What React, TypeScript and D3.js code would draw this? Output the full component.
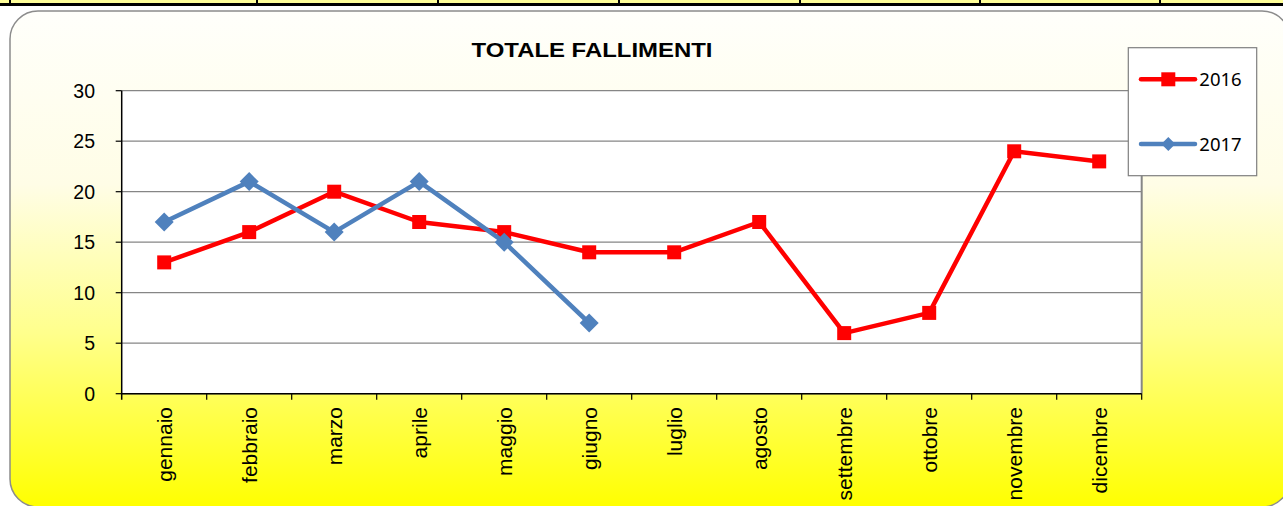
import React from "react";
import * as d3 from "d3";

const months = ["gennaio","febbraio","marzo","aprile","maggio","giugno","luglio","agosto","settembre","ottobre","novembre","dicembre"];
const values2016 = [13,16,20,17,16,14,14,17,6,8,24,23];
const values2017 = [17,21,16,21,15,7];
const yTicks = [0,5,10,15,20,25,30];
const title = "TOTALE FALLIMENTI";
const seriesNames = ["2016","2017"];
const tableDividers = [10,257,438,619,800,980,1160];

const W = 1283, H = 506;
const PL = 121.7, PR = 1141.7, PT = 90.7, PB = 393.7;

export default function App() {
  const x = d3.scaleBand<string>().domain(months).range([PL, PR]);
  const y = d3.scaleLinear().domain([0, 30]).range([PB, PT]);
  const cx = (m: string) => (x(m) as number) + x.bandwidth() / 2;
  const line = d3.line<number>().x((_, i) => cx(months[i])).y(v => y(v));
  const red = "#ff0000", blue = "#4f81bd";
  const axisFont = "'Liberation Sans', Arial, sans-serif";
  const sq = 14, dm = 9.5;
  const diamond = (px: number, py: number, r: number) => `M${px},${py - r}L${px + r},${py}L${px},${py + r}L${px - r},${py}Z`;
  return (
    <svg width={W} height={H} style={{ position: "absolute", left: 0, top: 0 }}>
      <defs>
        <linearGradient id="bg" x1="0" y1="0" x2="0" y2="1">
          <stop offset="0" stopColor="#fffffb" />
          <stop offset="0.35" stopColor="#fffde6" />
          <stop offset="0.65" stopColor="#ffff8c" />
          <stop offset="1" stopColor="#ffff00" />
        </linearGradient>
      </defs>
      <rect x={0} y={0} width={W} height={H} fill="#ffffff" />
      {/* top table strip */}
      <rect x={0} y={0} width={W} height={3} fill="#ffff99" />
      <rect x={0} y={3} width={W} height={3} fill="#000" />
      {tableDividers.map((d, i) => (
        <rect key={i} x={d - 1} y={0} width={2} height={6} fill="#000" />
      ))}
      {/* chart area */}
      <rect x={10} y={11} width={1280} height={496} rx={28} ry={28} fill="url(#bg)" stroke="#8c8c8c" strokeWidth={1.5} />
      <text x={471.5} y={57} textLength={241} lengthAdjust="spacingAndGlyphs" fontFamily={axisFont} fontWeight="bold" fontSize={19.5} fill="#000">{title}</text>
      {/* plot area */}
      <rect x={PL} y={PT} width={PR - PL} height={PB - PT} fill="#fff" />
      {yTicks.map(t => (
        <line key={t} x1={PL} x2={PR} y1={y(t)} y2={y(t)} stroke="#868686" strokeWidth={1.2} />
      ))}
      <line x1={PR} x2={PR} y1={PT} y2={PB} stroke="#868686" strokeWidth={2} />
      <line x1={PL} x2={PL} y1={PT} y2={PB + 6} stroke="#000" strokeWidth={1.5} />
      <line x1={PL} x2={PR} y1={PB} y2={PB} stroke="#000" strokeWidth={1.5} />
      {yTicks.map(t => (
        <g key={"yt" + t}>
          <line x1={PL - 6} x2={PL} y1={y(t)} y2={y(t)} stroke="#000" strokeWidth={1.2} />
          <text x={95} y={y(t)} dy="0.36em" textAnchor="end" fontFamily={axisFont} fontSize={19.5} fill="#000">{t}</text>
        </g>
      ))}
      {months.map((m, i) => (
        <line key={"xt" + m} x1={(x(m) as number) + x.bandwidth()} x2={(x(m) as number) + x.bandwidth()} y1={PB} y2={PB + 6} stroke="#000" strokeWidth={1.2} />
      ))}
      {months.map(m => (
        <text key={"xl" + m} transform={`translate(${cx(m) + 8},407) rotate(-90)`} textAnchor="end" fontFamily={axisFont} fontSize={21} fill="#000">{m}</text>
      ))}
      {/* series */}
      <path d={line(values2016) || ""} fill="none" stroke={red} strokeWidth={4.5} strokeLinejoin="round" strokeLinecap="round" />
      {values2016.map((v, i) => (
        <rect key={"r" + i} x={cx(months[i]) - sq / 2} y={y(v) - sq / 2} width={sq} height={sq} fill={red} />
      ))}
      <path d={line(values2017) || ""} fill="none" stroke={blue} strokeWidth={4.5} strokeLinejoin="round" strokeLinecap="round" />
      {values2017.map((v, i) => (
        <path key={"b" + i} d={diamond(cx(months[i]), y(v), dm)} fill={blue} />
      ))}
      {/* legend */}
      <rect x={1128.3} y={47.7} width={128.4} height={128} fill="#fff" stroke="#7f7f7f" strokeWidth={1.2} />
      <line x1={1141} x2={1195} y1={79.3} y2={79.3} stroke={red} strokeWidth={4.5} strokeLinecap="round" />
      <rect x={1168.3 - 7} y={79.3 - 7} width={14} height={14} fill={red} />
      <text x={1199.3} y={79.3} dy="0.36em" fontFamily="'Noto Sans', sans-serif" fontSize={18.5} fill="#000">{seriesNames[0]}</text>
      <line x1={1141} x2={1195} y1={144} y2={144} stroke={blue} strokeWidth={4.5} strokeLinecap="round" />
      <path d={diamond(1168.3, 144, 7)} fill={blue} />
      <text x={1199.3} y={144} dy="0.36em" fontFamily="'Noto Sans', sans-serif" fontSize={18.5} fill="#000">{seriesNames[1]}</text>
    </svg>
  );
}
